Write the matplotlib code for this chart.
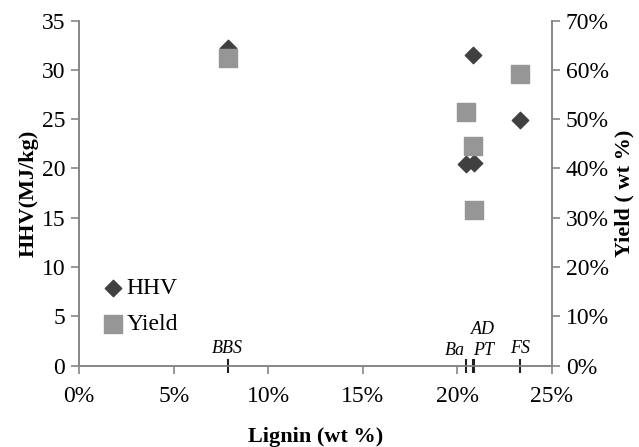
import matplotlib
matplotlib.use("Agg")
import matplotlib.pyplot as plt
from matplotlib.ticker import FuncFormatter

# data
samples = ["BBS", "Ba", "AD", "PT", "FS"]
lignin = [7.85, 20.45, 20.85, 20.9, 23.3]       # wt %
hhv = [32.2, 20.5, 31.5, 20.6, 24.9]            # MJ/kg
yield_pct = [62.4, 51.5, 44.6, 31.6, 59.1]      # wt %

# sample label offsets (points)
lab_pos = {"BBS": (0, 9), "Ba": (-8, 8), "AD": (7, 23), "PT": (7, 8), "FS": (0, 9)}

DK, GR, AX = "#404040", "#969696", "#868686"
plt.rcParams["font.family"] = ["Liberation Serif", "DejaVu Serif"]
plt.rcParams["font.size"] = 17

fig = plt.figure(figsize=(6.39, 4.47), dpi=100)
ax = fig.add_axes([0.124, 0.182, 0.7395, 0.772])
ax2 = ax.twinx()

ax.scatter(lignin, hhv, marker="D", s=70, color=DK, zorder=3, label="HHV")
ax2.scatter(lignin, yield_pct, marker="s", s=170, color=GR, zorder=3, label="Yield")

ax.set_xlim(0, 25); ax.set_ylim(0, 35); ax2.set_ylim(0, 70)
ax.set_xticks([0, 5, 10, 15, 20, 25]); ax.set_yticks(range(0, 36, 5))
ax2.set_yticks(range(0, 71, 10))
ax.xaxis.set_major_formatter(FuncFormatter(lambda v, p: f"{v:.0f}%"))
ax2.yaxis.set_major_formatter(FuncFormatter(lambda v, p: f"{v:.0f}%"))

for a in (ax, ax2):
    a.spines["top"].set_visible(False)
    for s in ("left", "right", "bottom"):
        a.spines[s].set_color(AX); a.spines[s].set_linewidth(1.2)
    a.tick_params(color=AX, length=6, width=1.2, pad=4)
ax.tick_params(axis="x", pad=9)

# sample ticks on the x axis
ax.plot(lignin, [0] * len(lignin), ls="none", marker="|", ms=10, mew=1.5, color="#202020", clip_on=False, zorder=4)
for n, x in zip(samples, lignin):
    dx, dy = lab_pos[n]
    ax.annotate(n, (x, 0), textcoords="offset points", xytext=(dx, dy), ha="center",
                fontsize=13, style="italic")

ax.set_xlabel("Lignin (wt %)", fontweight="bold", fontsize=16, labelpad=14)
ax.set_ylabel("HHV(MJ/kg)", fontweight="bold", fontsize=16, labelpad=2)
ax2.set_ylabel("Yield ( wt %)", fontweight="bold", fontsize=16, labelpad=4)

h1, l1 = ax.get_legend_handles_labels(); h2, l2 = ax2.get_legend_handles_labels()
ax.legend(h1 + h2, l1 + l2, loc="lower left", bbox_to_anchor=(0.025, 0.055), frameon=False,
          handlelength=0.9, handletextpad=0.1, labelspacing=0.6, fontsize=17, borderpad=0)

fig.savefig("out.png", dpi=100)
